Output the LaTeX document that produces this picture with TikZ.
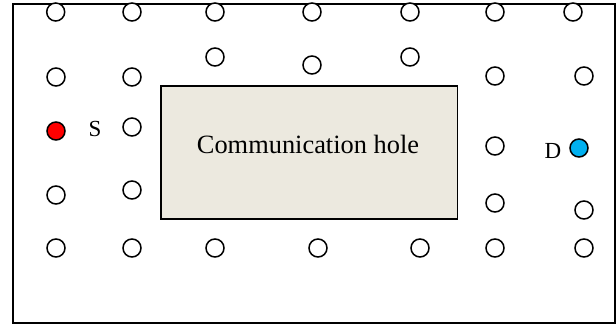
\documentclass[tikz,border=0pt]{standalone}
\usepackage{fontspec}
\setmainfont{Liberation Serif}
\definecolor{holefill}{HTML}{ECE9DF}
\definecolor{srcred}{HTML}{FF0000}
\definecolor{dstblue}{HTML}{00B0F0}
\begin{document}
\begin{tikzpicture}[x=1pt,y=-1pt,
  sensor/.style={circle,draw=black,line width=1.5pt,fill=white,minimum size=18pt,inner sep=0pt},
  nodetag/.style={inner sep=0pt,anchor=base,font=\fontsize{23}{26}\selectfont},
  hole/.style={draw=black,line width=1.8pt,fill=holefill}]
\useasboundingbox (0,0) rectangle (616,327);
% outer field
\draw[line width=2pt] (13,4) rectangle (614.5,323);
% the hole in coverage
\draw[hole] (161,86) rectangle (457.5,219);
\node[inner sep=0pt,anchor=base,font=\fontsize{26.4}{30}\selectfont] (holetext) at (308,153) {Communication hole};
% top row
\foreach \x [count=\i] in {55.7,132,215,312,410,495,573}
  \node[sensor] (t\i) at (\x,12) {};
% second row
\node[sensor] (a1) at (56,77) {};
\node[sensor] (a2) at (132,77) {};
\node[sensor] (a3) at (215,57) {};
\node[sensor] (a4) at (312,65) {};
\node[sensor] (a5) at (410,57) {};
\node[sensor] (a6) at (495,76) {};
\node[sensor] (a7) at (584,76) {};
% source and destination row
\node[sensor,fill=srcred] (src) at (56,131) {};
\node[nodetag] (slab) at (95,136.7) {S};
\node[sensor] (b2) at (132,127) {};
\node[sensor] (b3) at (495,146) {};
\node[nodetag] (dlab) at (553,158) {D};
\node[sensor,fill=dstblue] (dst) at (579,148) {};
% fourth row
\node[sensor] (c1) at (56,195) {};
\node[sensor] (c2) at (132,190) {};
\node[sensor] (c3) at (495,203) {};
\node[sensor] (c4) at (584,210) {};
% bottom row
\foreach \x [count=\i] in {56,132,215,318,420,495,584}
  \node[sensor] (d\i) at (\x,248) {};
\end{tikzpicture}
\end{document}
